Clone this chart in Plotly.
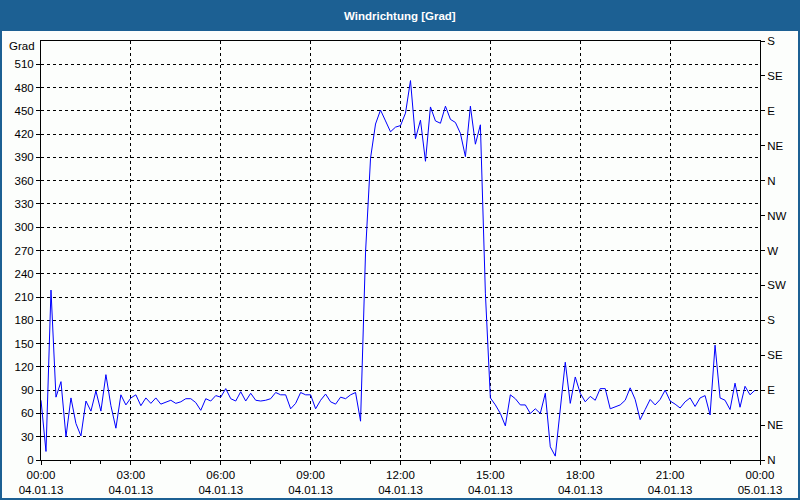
import plotly.graph_objects as go
import pandas as pd

# ---- data ----
start_time = "2013-01-04 00:00"
step_minutes = 10
wind_dir = [77, 11, 219, 81, 101, 30, 80, 47, 31, 76,
            63, 89, 63, 110, 70, 41, 84, 71, 80, 84,
            70, 80, 73, 80, 72, 75, 77, 73, 75, 79,
            79, 74, 64, 79, 76, 83, 81, 92, 79, 76,
            88, 76, 86, 77, 76, 77, 79, 87, 84, 84,
            66, 73, 87, 84, 84, 66, 77, 85, 75, 72,
            81, 79, 84, 87, 50, 268, 389, 433, 451, 437,
            423, 429, 431, 447, 489, 414, 438, 385, 455, 437,
            434, 456, 439, 435, 421, 391, 456, 407, 432, 215,
            80, 71, 60, 44, 84, 79, 71, 71, 60, 66,
            60, 86, 17, 5, 65, 126, 73, 107, 86, 75,
            82, 77, 92, 92, 66, 68, 71, 77, 93, 78,
            52, 65, 78, 71, 78, 90, 76, 72, 67, 75,
            80, 69, 80, 83, 58, 148, 80, 77, 65, 99,
            68, 95, 84, 90]
times = pd.date_range(start_time, periods=len(wind_dir), freq=f"{step_minutes}min")

x_tick_vals = ["2013-01-04 00:00", "2013-01-04 03:00", "2013-01-04 06:00", "2013-01-04 09:00",
               "2013-01-04 12:00", "2013-01-04 15:00", "2013-01-04 18:00", "2013-01-04 21:00",
               "2013-01-05 00:00"]
x_tick_text = ["00:00<br>04.01.13", "03:00<br>04.01.13", "06:00<br>04.01.13", "09:00<br>04.01.13",
               "12:00<br>04.01.13", "15:00<br>04.01.13", "18:00<br>04.01.13", "21:00<br>04.01.13",
               "00:00<br>05.01.13"]
y_tick_vals = list(range(0, 511, 30))
compass_vals = list(range(0, 541, 45))
compass_text = ["N", "NE", "E", "SE", "S", "SW", "W", "NW", "N", "NE", "E", "SE", "S"]

# ---- layout geometry ----
W, H = 800, 500
L, R, T, B = 41, 40, 41, 40
pw, ph = W - L - R, H - T - B
def px(xp):
    return (xp - L) / pw
def py(yp):
    return (H - B - yp) / ph

BLUE = "#1c6093"
BG = "#fcfefc"
FONT = "Liberation Sans"

fig = go.Figure()
fig.add_trace(go.Scatter(x=times, y=wind_dir, mode="lines",
                         line=dict(color="#0000ff", width=1), showlegend=False))
# invisible trace for right axis
fig.add_trace(go.Scatter(x=[times[0]], y=[0], yaxis="y2", mode="markers",
                         marker=dict(opacity=0), showlegend=False, hoverinfo="skip"))

grid = dict(showgrid=True, gridcolor="black", gridwidth=1, griddash="3px,3px")

fig.update_layout(
    width=W, height=H,
    margin=dict(l=L, r=R, t=T, b=B, pad=0, autoexpand=False),
    showlegend=False,
    paper_bgcolor=BLUE, plot_bgcolor=BG,
    font=dict(family=FONT, size=11.5, color="black"),
    xaxis=dict(type="date", range=["2013-01-04 00:00", "2013-01-05 00:00"],
               tickmode="array", tickvals=x_tick_vals, ticktext=x_tick_text,
               ticks="outside", ticklen=4, tickcolor="black", automargin=False,
               minor=dict(dtick=3600000, ticks="outside", ticklen=3, tickcolor="black", showgrid=False),
               showline=True, linecolor="black", linewidth=1, mirror=True,
               zeroline=False, fixedrange=True, **grid),
    yaxis=dict(range=[0, 540], tickmode="array", tickvals=y_tick_vals,
               ticks="outside", ticklen=4, tickcolor="black", automargin=False,
               showline=True, linecolor="black", linewidth=1, mirror=True,
               zeroline=False, **grid),
    yaxis2=dict(range=[0, 540], overlaying="y", side="right", tickmode="array",
                tickvals=compass_vals, ticktext=compass_text, automargin=False,
                ticks="outside", ticklen=4, tickcolor="black",
                showline=True, linecolor="black", linewidth=1,
                showgrid=False, zeroline=False),
    shapes=[
        dict(type="rect", xref="paper", yref="paper", layer="below",
             x0=px(2), x1=px(798), y0=py(498), y1=py(31),
             fillcolor=BG, line=dict(width=0)),
    ],
    annotations=[
        dict(text="<b>Windrichtung [Grad]</b>", xref="paper", yref="paper",
             x=px(400), y=py(15.5), xanchor="center", yanchor="middle", showarrow=False,
             font=dict(family=FONT, size=11.5, color="white")),
        dict(text="Grad", xref="paper", yref="paper",
             x=px(37), y=py(46), xanchor="right", yanchor="middle", showarrow=False,
             font=dict(family=FONT, size=11.5, color="black")),
    ],
)

fig.write_html("out.html")
